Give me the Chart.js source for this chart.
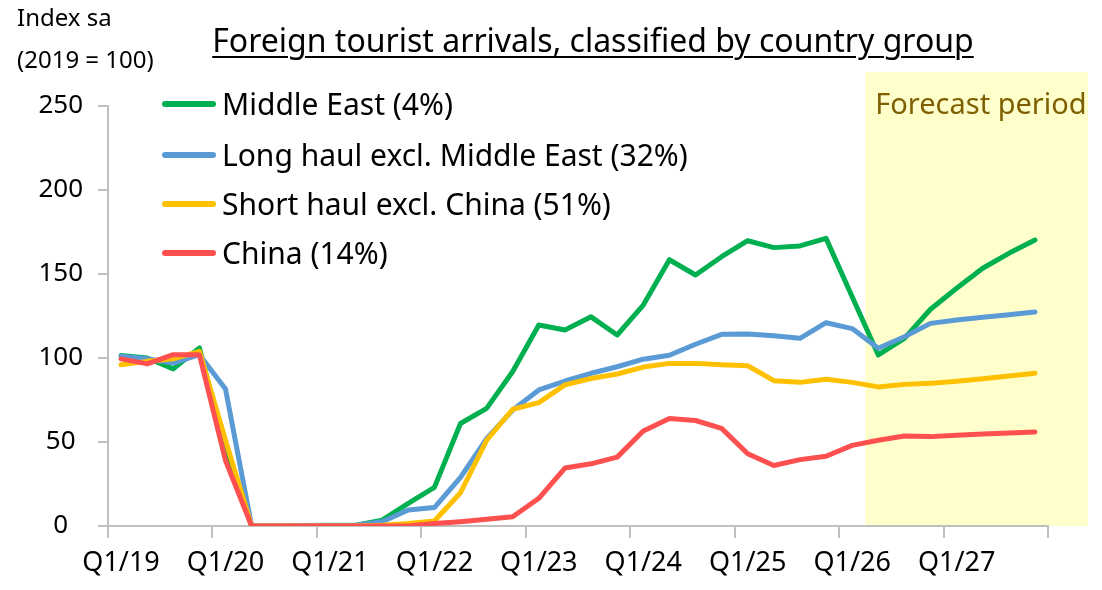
<!DOCTYPE html>
<html>
<head>
<meta charset="utf-8">
<script src="https://cdn.jsdelivr.net/npm/chart.js@4.4.1/dist/chart.umd.min.js"></script>
<style>
  body { margin: 0; background: #fff; font-family: "Noto Sans", sans-serif; }
  #wrap { position: relative; width: 1102px; height: 590px; overflow: hidden; }
  canvas { position: absolute; left: 0; top: 0; }
  .txt { position: absolute; white-space: nowrap; line-height: 1; color: #000; }
  #title { left: 593px; top: 24px; transform: translateX(-50%); font-size: 32px; text-decoration: underline; text-underline-offset: 4px; text-decoration-thickness: 2px; }
  #unit1 { left: 17px; top: 5px; font-size: 24px; }
  #unit2 { left: 17px; top: 47px; font-size: 24px; }
  .leg { position: absolute; left: 162px; height: 32px; display: flex; align-items: center; }
  .leg .swatch { width: 54px; height: 6px; border-radius: 3px; margin-right: 6px; }
  .leg span { font-size: 30px; line-height: 1; }
</style>
</head>
<body>
<div id="wrap">
  <canvas id="chart" width="1102" height="590"></canvas>
  <div class="txt" id="title">Foreign tourist arrivals, classified by country group</div>
  <div class="txt" id="unit1">Index sa</div>
  <div class="txt" id="unit2">(2019 = 100)</div>
  <div id="legend"></div>
</div>
<script>
// categories (quarters)
const QUARTERS = [
  'Q1/19', 'Q2/19', 'Q3/19', 'Q4/19', 'Q1/20', 'Q2/20', 'Q3/20', 'Q4/20',
  'Q1/21', 'Q2/21', 'Q3/21', 'Q4/21', 'Q1/22', 'Q2/22', 'Q3/22', 'Q4/22',
  'Q1/23', 'Q2/23', 'Q3/23', 'Q4/23', 'Q1/24', 'Q2/24', 'Q3/24', 'Q4/24',
  'Q1/25', 'Q2/25', 'Q3/25', 'Q4/25', 'Q1/26', 'Q2/26', 'Q3/26', 'Q4/26',
  'Q1/27', 'Q2/27', 'Q3/27', 'Q4/27'
];

// series values (index, 2019 = 100)
const middleEast = [101.5, 100, 93.5, 106, 45, 0, 0, 0, 0.3, 0.5, 3.5, 13.5,
  23, 61, 70, 92, 119.6, 116.7, 124.5, 113.7, 131.5, 158.5, 149.4, 160.3,
  169.8, 165.7, 166.7, 171.2, 136.5, 101.8, 111.7, 129, 141.5, 153.4, 162.3, 170.2];
const longHaul = [101, 99.5, 97, 102, 81.5, 0, 0, 0.3, 0.5, 0.5, 2.5, 9.5,
  11, 29, 52, 69, 81, 86.3, 90.9, 94.8, 99.3, 101.6, 108.2, 114.1,
  114.3, 113.3, 111.7, 121, 117.5, 105.8, 112.7, 120.6, 122.6, 124.2, 125.8, 127.4];
const shortHaul = [96, 98, 99.5, 104, 51, 0, 0, 0, 0, 0, 0.5, 1.5,
  3, 19.8, 51, 69.5, 73.4, 84, 87.8, 90.5, 94.6, 96.8, 96.8, 96,
  95.4, 86.5, 85.5, 87.3, 85.5, 82.8, 84.3, 84.9, 86.1, 87.7, 89.3, 90.9];
const china = [99.5, 96.5, 102, 102, 39, 0, 0, 0, 0, 0, 0, 0,
  1.5, 2.6, 4, 5.5, 16.5, 34.5, 37, 41, 56.6, 64, 62.8, 58.1,
  43, 36, 39.5, 41.5, 48, 51, 53.6, 53.2, 54, 54.8, 55.4, 56];

const SERIES_NAMES = ['Middle East (4%)', 'Long haul excl. Middle East (32%)', 'Short haul excl. China (51%)', 'China (14%)'];
const SERIES_COLORS = ['#00b050', '#5b9bd5', '#ffc000', '#ff5050'];

// y ticks
const Y_MIN = 0, Y_MAX = 250, Y_STEP = 50;
// first forecast quarter
const FORECAST_START = 'Q2/26';

const AXIS_GRAY = '#bfbfbf';

// legend (html, placed inside the plot)
const legendTops = [88, 139, 188, 237];
const legendBox = document.getElementById('legend');
SERIES_NAMES.forEach((name, i) => {
  legendBox.innerHTML += `<div class="leg" style="top:${legendTops[i]}px"><div class="swatch" style="background:${SERIES_COLORS[i]}"></div><span>${name}</span></div>`;
});

// shaded forecast area + label
const forecastPlugin = {
  id: 'forecast',
  beforeDraw(chart) {
    const { ctx, chartArea, scales } = chart;
    const idx = QUARTERS.indexOf(FORECAST_START);
    const left = scales.x.getPixelForValue(idx - 0.5);
    const right = chartArea.right + 40;
    const top = chartArea.top - 34;
    ctx.save();
    ctx.fillStyle = '#ffffcc';
    ctx.fillRect(left, top, right - left, chartArea.bottom - top);
    ctx.fillStyle = '#7f6000';
    ctx.font = '29px "Noto Sans"';
    ctx.textBaseline = 'middle';
    ctx.fillText('Forecast period', left + 10, chartArea.top);
    ctx.restore();
  }
};

const allSeries = [middleEast, longHaul, shortHaul, china];

new Chart(document.getElementById('chart'), {
  type: 'line',
  data: {
    labels: QUARTERS,
    datasets: allSeries.map((d, i) => ({
      label: SERIES_NAMES[i],
      data: d,
      borderColor: SERIES_COLORS[i],
      backgroundColor: SERIES_COLORS[i],
      borderWidth: 5,
      pointRadius: 0,
      tension: 0,
      borderJoinStyle: 'round',
      borderCapStyle: 'round',
      order: 4 - i
    }))
  },
  options: {
    responsive: false,
    animation: false,
    layout: { padding: { top: 106, right: 54, left: 0, bottom: 0 } },
    plugins: { legend: { display: false }, tooltip: { enabled: false } },
    scales: {
      x: {
        offset: true,
        afterFit: (s) => { s.height = 64; },
        border: { color: AXIS_GRAY, width: 2 },
        grid: {
          offset: true,
          drawOnChartArea: false,
          tickLength: 12,
          lineWidth: 2,
          color: (c) => (c.type !== 'tick' || c.index % 4 === 0) ? AXIS_GRAY : 'rgba(0,0,0,0)'
        },
        ticks: {
          autoSkip: false,
          maxRotation: 0,
          minRotation: 0,
          padding: 9,
          color: '#000',
          font: { family: 'Noto Sans', size: 27 },
          callback: (v, i) => (i % 4 === 0 ? QUARTERS[i] : '')
        }
      },
      y: {
        min: Y_MIN,
        max: Y_MAX,
        afterFit: (s) => { s.width = 108; },
        border: { color: AXIS_GRAY, width: 2 },
        grid: { drawOnChartArea: false, tickLength: 10, lineWidth: 2, color: AXIS_GRAY },
        ticks: {
          stepSize: Y_STEP,
          crossAlign: 'center',
          padding: 15,
          color: '#000',
          font: { family: 'Noto Sans', size: 26 }
        }
      }
    }
  },
  plugins: [forecastPlugin]
});
</script>
</body>
</html>
